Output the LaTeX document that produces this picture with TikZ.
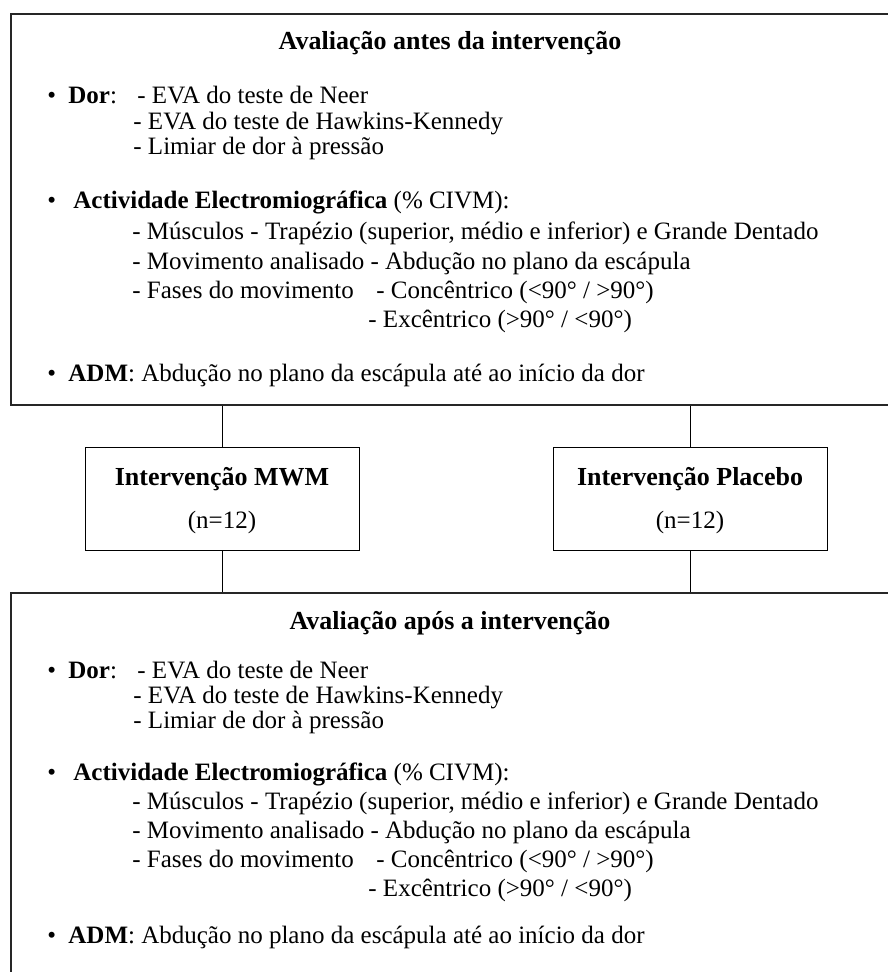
\documentclass[tikz,border=0pt]{standalone}
\usepackage{fontspec}
\setmainfont{Liberation Serif}
\begin{document}
\begin{tikzpicture}[x=0.5pt,y=-0.5pt,
  txt/.style={anchor=base west, inner sep=0pt, font=\fontsize{12.5}{15}\selectfont},
  ctxt/.style={anchor=base, inner sep=0pt, font=\fontsize{12.5}{15}\selectfont},
  ttl/.style={anchor=base, inner sep=0pt, font=\fontsize{13}{15}\selectfont\bfseries},
  bigbox/.style={draw=black!85, line width=1pt, inner sep=0pt, anchor=north west, minimum width=460pt},
  smallbox/.style={draw=black, line width=0.6pt, inner sep=0pt, anchor=north west, minimum width=137pt, minimum height=51.5pt},
  conn/.style={draw=black, line width=0.6pt}]
\useasboundingbox (0,0) rectangle (887,972);

% boxes
\node[bigbox, minimum height=195.5pt] (top) at (10,13) {};
\node[bigbox, minimum height=210pt] (bot) at (10,592) {};
\node[smallbox] (mwm) at (85,447) {};
\node[smallbox] (plc) at (553,447) {};

% connectors
\draw[conn] (mwm.north |- top.south) -- (mwm.north);
\draw[conn] (mwm.south) -- (mwm.south |- bot.north);
\draw[conn] (plc.north |- top.south) -- (plc.north);
\draw[conn] (plc.south) -- (plc.south |- bot.north);

% small box texts
\node[ttl] (mwmt) at (222,485) {Intervenção MWM};
\node[ctxt] (mwmn) at (222,528) {(n=12)};
\node[ttl] (plct) at (690,485) {Intervenção Placebo};
\node[ctxt] (plcn) at (690,528) {(n=12)};

% top box text
\node[ttl] (t0) at (450,50) {Avaliação antes da intervenção};
\node[txt] (t1b) at (47,104) {•};
\node[txt] (t1a) at (68,104) {\textbf{Dor}:};
\node[txt] (t1) at (137,104) {- EVA do teste de Neer};
\node[txt] (t2) at (133,130) {- EVA do teste de Hawkins-Kennedy};
\node[txt] (t3) at (133,155) {- Limiar de dor à pressão};
\node[txt] (t4b) at (47,209) {•};
\node[txt] (t4) at (73,209) {\textbf{Actividade Electromiográfica} (\% CIVM):};
\node[txt] (t5) at (132,240) {- Músculos - Trapézio (superior, médio e inferior) e Grande Dentado};
\node[txt] (t6) at (132,270) {- Movimento analisado - Abdução no plano da escápula};
\node[txt] (t7) at (132,299) {- Fases do movimento};
\node[txt] (t7a) at (376,299) {- Concêntrico (<90° / >90°)};
\node[txt] (t8) at (368,328) {- Excêntrico (>90° / <90°)};
\node[txt] (t9b) at (47,381) {•};
\node[txt] (t9) at (68,381) {\textbf{ADM}: Abdução no plano da escápula até ao início da dor};

% bottom box text
\node[ttl] (b0) at (450,629) {Avaliação após a intervenção};
\node[txt] (b1b) at (47,678) {•};
\node[txt] (b1a) at (68,678) {\textbf{Dor}:};
\node[txt] (b1) at (137,678) {- EVA do teste de Neer};
\node[txt] (b2) at (133,703) {- EVA do teste de Hawkins-Kennedy};
\node[txt] (b3) at (133,728) {- Limiar de dor à pressão};
\node[txt] (b4b) at (47,780) {•};
\node[txt] (b4) at (73,780) {\textbf{Actividade Electromiográfica} (\% CIVM):};
\node[txt] (b5) at (132,809) {- Músculos - Trapézio (superior, médio e inferior) e Grande Dentado};
\node[txt] (b6) at (132,838) {- Movimento analisado - Abdução no plano da escápula};
\node[txt] (b7) at (132,867) {- Fases do movimento};
\node[txt] (b7a) at (376,867) {- Concêntrico (<90° / >90°)};
\node[txt] (b8) at (368,896) {- Excêntrico (>90° / <90°)};
\node[txt] (b9b) at (47,943) {•};
\node[txt] (b9) at (68,943) {\textbf{ADM}: Abdução no plano da escápula até ao início da dor};
\end{tikzpicture}
\end{document}
